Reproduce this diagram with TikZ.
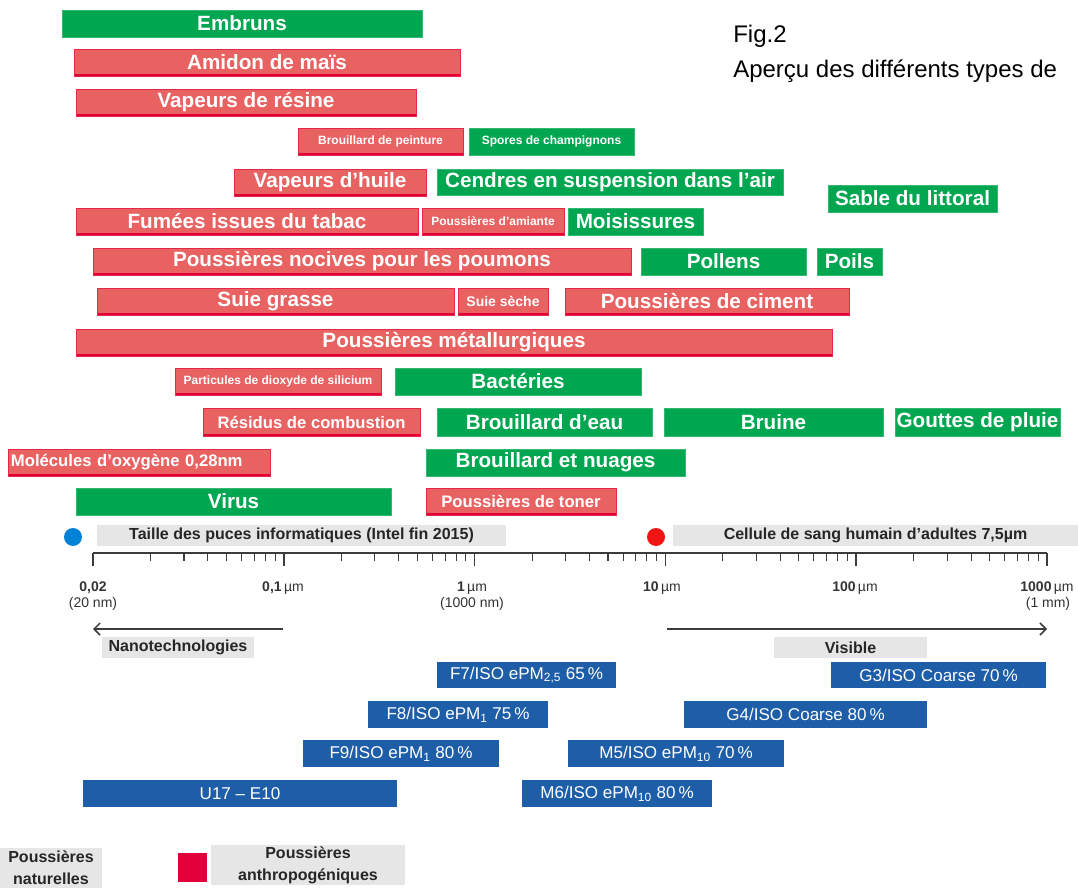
\documentclass[tikz,border=0pt]{standalone}
\usepackage{fontspec}
\setmainfont{Liberation Sans}
\usetikzlibrary{arrows.meta}

\definecolor{natgreen}{RGB}{0,166,80}
\definecolor{anthsalmon}{RGB}{232,98,98}
\definecolor{anthred}{RGB}{227,0,58}
\definecolor{filterblue}{RGB}{30,94,168}
\definecolor{labelgray}{RGB}{230,230,230}
\definecolor{axisgray}{RGB}{60,60,60}
\definecolor{dotblue}{RGB}{0,130,215}
\definecolor{dotred}{RGB}{240,20,20}

\tikzset{x=0.75pt, y=-0.75pt,
spanning/.style n args={4}{minimum width={(#3-#1)*0.75pt}, minimum height={(#4-#2)*0.75pt}, at={({(#1+#3)/2},{(#2+#4)/2})}},
natbar/.style={fill=natgreen, draw=natgreen!80!white, line width=0.6pt, inner sep=0pt, text=white, font=\bfseries\fontsize{15.5}{16}\selectfont},
anthbar/.style={fill=anthsalmon, draw=anthred!60!anthsalmon, line width=0.6pt, inner sep=0pt, text=white, font=\bfseries\fontsize{15.5}{16}\selectfont,
  path picture={\fill[anthred] ([yshift=1.6pt]path picture bounding box.south west) rectangle (path picture bounding box.south east);}},
smalltxt/.style={font=\bfseries\fontsize{9}{10}\selectfont},
midtxt/.style={font=\bfseries\fontsize{12.5}{13}\selectfont},
filterbox/.style={fill=filterblue, inner sep=0pt, text=white, font=\fontsize{12.8}{13}\selectfont},
graybox/.style={fill=labelgray, inner sep=0pt, text=black!85, font=\bfseries\fontsize{12}{16.5}\selectfont},
ticklabel/.style={inner sep=0pt, text=black!80, font=\fontsize{10.5}{11}\selectfont},
figtext/.style={anchor=base west, inner sep=0pt, font=\fontsize{18}{20}\selectfont},
>={Straight Barb[length=4.5pt, width=9pt]}
}

\begin{document}
\begin{tikzpicture}
\useasboundingbox (0,0) rectangle (1078,888);
% title
\node[figtext] (figno) at (733,43) {Fig.2};
\node[figtext] (figtitle) at (733,78) {Aperçu des différents types de};
% dust bars, one row every 40px
\node[natbar, spanning={62}{10}{422}{37}] (embruns) {Embruns};
\node[anthbar, spanning={74}{49}{460}{76}] (amidon) {Amidon de maïs};
\node[anthbar, spanning={76}{89}{416}{116}] (resine) {Vapeurs de résine};
\node[anthbar, smalltxt, spanning={298}{128}{463}{155}] (peinture) {Brouillard de peinture};
\node[natbar, smalltxt, spanning={469}{128}{634}{155}] (spores) {Spores de champignons};
\node[anthbar, spanning={234}{169}{426}{196}] (huile) {Vapeurs d’huile};
\node[natbar, spanning={437}{169}{783}{195}] (cendres) {Cendres en suspension dans l’air};
\node[natbar, spanning={828}{185}{997}{212}] (sable) {Sable du littoral};
\node[anthbar, spanning={76}{208}{418}{235}] (tabac) {Fumées issues du tabac};
\node[anthbar, smalltxt, spanning={422}{208}{564}{235}] (amiante) {Poussières d’amiante};
\node[natbar, spanning={568}{208}{703}{235}] (moisissures) {Moisissures};
\node[anthbar, spanning={93}{248}{631}{275}] (poumons) {Poussières nocives pour les poumons};
\node[natbar, spanning={641}{248}{806}{275}] (pollens) {Pollens};
\node[natbar, spanning={817}{248}{882}{275}] (poils) {Poils};
\node[anthbar, spanning={97}{288}{454}{315}] (suiegrasse) {Suie grasse};
\node[anthbar, font=\bfseries\fontsize{10.5}{11}\selectfont, spanning={458}{288}{548}{315}] (suieseche) {Suie sèche};
\node[anthbar, spanning={565}{288}{849}{315}] (ciment) {Poussières de ciment};
\node[anthbar, spanning={76}{329}{832}{356}] (metal) {Poussières métallurgiques};
\node[anthbar, smalltxt, spanning={175}{368}{381}{395}] (silicium) {Particules de dioxyde de silicium};
\node[natbar, spanning={395}{368}{641}{395}] (bacteries) {Bactéries};
\node[anthbar, midtxt, spanning={203}{408}{420}{436}] (combustion) {Résidus de combustion};
\node[natbar, spanning={437}{408}{652}{436}] (eau) {Brouillard d’eau};
\node[natbar, spanning={664}{408}{883}{436}] (bruine) {Bruine};
\node[natbar, spanning={895}{408}{1060}{436}] (pluie) {Gouttes de pluie};
\node[anthbar, midtxt, text width=192pt, align=left, spanning={8}{449}{270}{476}] (oxygene) {Molécules d’oxygène 0,28nm};
\node[natbar, spanning={426}{449}{685}{476}] (nuages) {Brouillard et nuages};
\node[natbar, spanning={76}{488}{391}{515}] (virus) {Virus};
\node[anthbar, midtxt, spanning={426}{488}{616}{515}] (toner) {Poussières de toner};
% markers above the axis
\node[circle, fill=dotblue, inner sep=0pt, minimum size=13.5pt] (bluedot) at (73,537) {};
\node[graybox, spanning={97}{525}{506}{546}] (puces) {Taille des puces informatiques (Intel fin 2015)};
\node[circle, fill=dotred, inner sep=0pt, minimum size=13.5pt] (reddot) at (656,537) {};
\node[graybox, spanning={673}{525}{1078}{546}] (sang) {Cellule de sang humain d’adultes 7,5µm};
% log axis, edit here for the decades
\coordinate (axL) at (93,553);
\coordinate (axR) at (1047,553);
\draw[axisgray, line width=1.6pt] (axL) -- (axR);
\foreach \d in {0,...,5}
\draw[axisgray, line width=1.2pt] ({93+190.8*\d},553) -- ++(0,13);
\foreach \d in {0,...,4}{ % minor ticks
\foreach \k in {2,...,9}
\draw[axisgray, line width=0.8pt] ({93+190.8*(\d+log10(\k))},553) -- ++(0,8);}
\node[ticklabel] (lab002) at (93,588) {\textbf{0,02}};
\node[ticklabel] (lab20nm) at (93,604) {(20 nm)};
\node[ticklabel] (lab01) at (283,588) {\textbf{0,1}\,µm};
\node[ticklabel] (lab1) at (472,588) {\textbf{1}\,µm};
\node[ticklabel] (lab1000nm) at (472,604) {(1000 nm)};
\node[ticklabel] (lab10) at (662,588) {\textbf{10}\,µm};
\node[ticklabel] (lab100) at (855,588) {\textbf{100}\,µm};
\node[ticklabel] (lab1000) at (1047,588) {\textbf{1000}\,µm};
\node[ticklabel] (lab1mm) at (1048,604) {(1 mm)};
% ranges below the axis
\coordinate (nanoS) at (283,629);
\coordinate (nanoE) at (93,629);
\coordinate (visS) at (667,629);
\coordinate (visE) at (1047,629);
\draw[->, axisgray, line width=1.1pt] (nanoS) -- (nanoE);
\draw[->, axisgray, line width=1.1pt] (visS) -- (visE);
\node[graybox, spanning={102}{637}{254}{658}] (nano) {Nanotechnologies};
\node[graybox, spanning={774}{637}{927}{658}] (visible) {Visible};
% filter classes
\node[filterbox, spanning={437}{662}{616}{688}] (fseven) {F7/ISO ePM\textsubscript{2,5} 65\,\%};
\node[filterbox, spanning={831}{662}{1046}{688}] (gthree) {G3/ISO Coarse 70\,\%};
\node[filterbox, spanning={368}{701}{548}{728}] (feight) {F8/ISO ePM\textsubscript{1} 75\,\%};
\node[filterbox, spanning={684}{701}{927}{728}] (gfour) {G4/ISO Coarse 80\,\%};
\node[filterbox, spanning={303}{740}{499}{767}] (fnine) {F9/ISO ePM\textsubscript{1} 80\,\%};
\node[filterbox, spanning={568}{740}{784}{767}] (mfive) {M5/ISO ePM\textsubscript{10} 70\,\%};
\node[filterbox, spanning={83}{780}{397}{807}] (ufilter) {U17 – E10};
\node[filterbox, spanning={522}{780}{712}{807}] (msix) {M6/ISO ePM\textsubscript{10} 80\,\%};
% legend
\node[graybox, align=center, spanning={0}{848}{102}{888}] (naturelles) {Poussières\\naturelles};
\node[fill=anthred, inner sep=0pt, spanning={178}{853}{207}{882}] (redsquare) {};
\node[graybox, align=center, spanning={211}{845}{405}{885}] (anthropo) {Poussières\\anthropogéniques};
\end{tikzpicture}
\end{document}
